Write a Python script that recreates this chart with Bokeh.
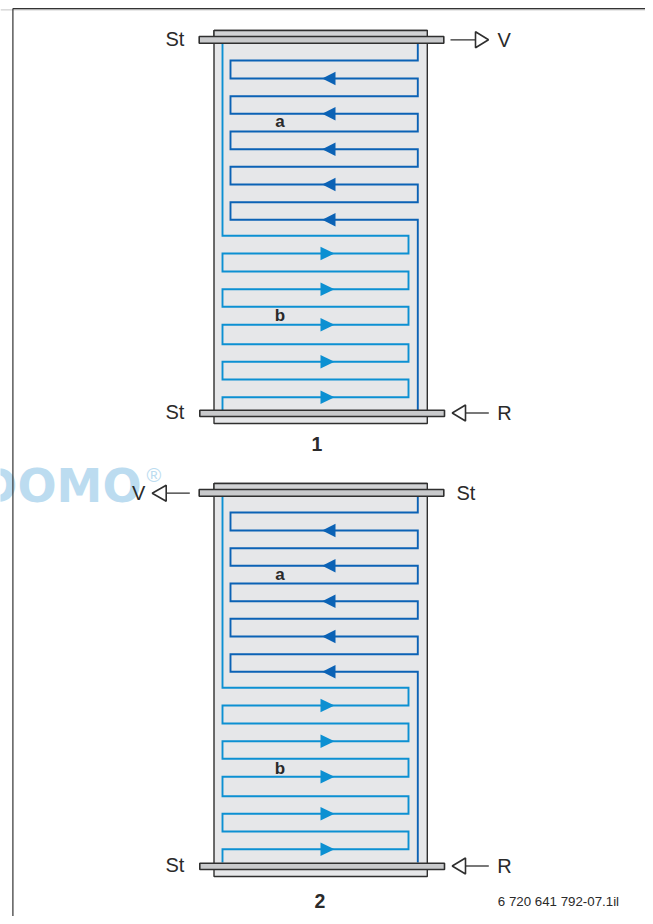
from bokeh.plotting import figure
from bokeh.embed import file_html
from bokeh.resources import INLINE
from bokeh.core.properties import value
from bokeh.models import Range1d

# --- values ---------------------------------------------------------
panel_shift = [0, 453]                # vertical shift of each panel
coil_shift = [0, 452]
coil_a_rows = [60, 78, 95.7, 113.3, 131, 148.7, 166.3, 184, 201.7, 219.3]
coil_b_rows = [235.3, 253, 271, 288.7, 306.3, 324.3, 343.7, 361.3, 379, 396.7]
coil_a_x = [230, 417.3]
coil_b_x = [222, 408]
arrow_a_rows = [78, 113.3, 148.7, 184, 219.3]
arrow_b_rows = [253, 288.7, 324.3, 361.3, 396.7]
panel_names = ["1", "2"]
labels_a_b = ["a", "b"]
part_number = "6 720 641 792-07.1il"

DARK = "#0b62b5"
LIGHT = "#0c90d2"
EDGE = "#2f2f2f"
FONT = value("Liberation Sans")

p = figure(width=645, height=916, output_backend="svg", toolbar_location=None,
           x_range=Range1d(0, 645), y_range=Range1d(916, 0),
           min_border=0, min_border_left=0, min_border_right=0,
           min_border_top=0, min_border_bottom=0, outline_line_color=None,
           background_fill_color="white", border_fill_color="white")
p.axis.visible = False
p.grid.visible = False


def serpentine(rows, first_x, other_x):
    xs, ys = [], []
    cur = first_x
    for r in rows:
        xs += [cur]
        ys += [r]
        cur = other_x if cur == first_x else first_x
        xs += [cur]
        ys += [r]
    return xs, ys


def txt(x, y, s, size, bold=False, align="left", color="#2a2a2a", font=FONT):
    # y is the baseline seen in the picture; the drawn text sits lower
    p.text([x], [y - 0.38 * size], text=[s], text_font=font,
           text_font_size=f"{size}px",
           text_font_style="bold" if bold else "normal", text_align=align,
           text_baseline="alphabetic", text_color=color)


# watermark
txt(141, 503, "DOMO", 46, True, "right", "#bcdcf0", value("DejaVu Sans"))
txt(146, 482, "®", 20, False, "left", "#bcdcf0")

# frame
p.line([0, 645], [9.4, 9.4], line_color="#c4c4c4", line_width=1)
p.line([12.4, 12.4], [8, 916], line_color="#333333", line_width=1.2)
p.line([12.4, 645], [8.2, 8.2], line_color="#333333", line_width=1.2)

for i, (ds, cs) in enumerate(zip(panel_shift, coil_shift)):
    # vessel
    p.quad(left=[213.5], right=[426.8], top=[30 + ds], bottom=[423 + ds],
           fill_color="#e6e7e9", line_color=EDGE, line_width=1.4)
    p.quad(left=[213.5], right=[426.8], top=[30 + ds], bottom=[37 + ds],
           fill_color="#d2d3d5", line_color=EDGE, line_width=1.4)

    # coil a: from the top right to the bottom right
    xs, ys = serpentine(coil_a_rows, coil_a_x[1], coil_a_x[0])
    xs = [coil_a_x[1]] + xs + [coil_a_x[1]]
    ys = [43] + ys + [410]
    p.line(xs, [y + cs for y in ys], line_color=DARK, line_width=1.9,
           line_join="miter")

    # coil b: from the top left to the bottom left
    xs, ys = serpentine(coil_b_rows, coil_b_x[0], coil_b_x[1])
    xs = [coil_b_x[0]] + xs + [coil_b_x[0]]
    ys = [43] + ys + [410]
    p.line(xs, [y + cs for y in ys], line_color=LIGHT, line_width=1.9,
           line_join="miter")

    # flanges
    p.quad(left=[198.7], right=[443.3], top=[36 + ds], bottom=[42.8 + ds],
           fill_color="#c9cacc", line_color=EDGE, line_width=1.6)
    p.quad(left=[199.3], right=[444], top=[409.8 + ds], bottom=[416 + ds],
           fill_color="#c9cacc", line_color=EDGE, line_width=1.6)

    # flow arrows
    for r in arrow_a_rows:
        p.patch([321.7, 335, 335], [r + cs, r + cs - 6.7, r + cs + 6.7],
                fill_color=DARK, line_color=None)
    for r in arrow_b_rows:
        p.patch([334, 320, 320], [r + cs, r + cs - 6.7, r + cs + 6.7],
                fill_color=LIGHT, line_color=None)

    # coil labels
    txt(279.5, 127 + ds, labels_a_b[0], 17, True, "center")
    txt(279.5, 321.5 + ds, labels_a_b[1], 17, True, "center")

    # R connection and St labels
    yr = 412.5 + ds
    p.line([465, 488.3], [yr, yr], line_color=EDGE, line_width=1.3)
    p.patch([451.7, 465, 465], [yr, yr - 8, yr + 8], fill_color="white",
            line_color=EDGE, line_width=1.6)
    txt(496.7, yr + 7.5, "R", 20)
    txt(165, yr + 7, "St", 20)

# panel 1 top connections
yt = 39.3
p.line([450, 475], [yt, yt], line_color=EDGE, line_width=1.3)
p.patch([488, 475, 475], [yt, yt - 8, yt + 8], fill_color="white",
        line_color=EDGE, line_width=1.6)
txt(497, yt + 7.3, "V", 20)
txt(165, yt + 7, "St", 20)

# panel 2 top connections
yt2 = 492.7
p.line([165.7, 189.3], [yt2, yt2], line_color=EDGE, line_width=1.3)
p.patch([151.7, 165.7, 165.7], [yt2, yt2 - 8, yt2 + 8], fill_color="white",
        line_color=EDGE, line_width=1.6)
txt(131.5, yt2 + 7.3, "V", 20)
txt(456, yt2 + 7, "St", 20)

# panel numbers and part number
txt(316.5, 451, panel_names[0], 19.5, True, "center")
txt(319.5, 907.7, panel_names[1], 19.5, True, "center")
txt(497.3, 906, part_number, 13.3)

open("out.html", "w").write(file_html(p, INLINE))
